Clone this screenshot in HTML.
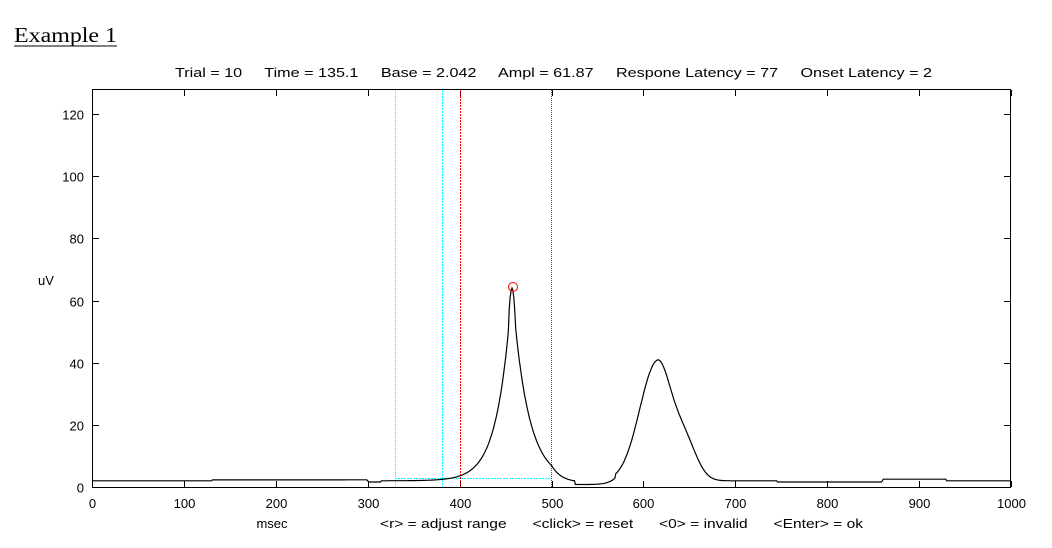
<!DOCTYPE html>
<html><head><meta charset="utf-8"><style>
body{margin:0;background:#fff;width:1052px;height:548px;overflow:hidden}
svg{display:block}
text{font-family:"Liberation Sans",Arial,sans-serif;font-size:13px;fill:#000}
</style></head><body>
<svg id="s" width="1052" height="548" xmlns="http://www.w3.org/2000/svg">
<text x="14" y="42" textLength="103" lengthAdjust="spacingAndGlyphs" style="font-family:'Liberation Serif',serif;font-size:21px">Example 1</text>
<line x1="14" y1="46" x2="117" y2="46" stroke="#000" stroke-width="1"/>
<text x="175" y="77" textLength="757" lengthAdjust="spacingAndGlyphs" xml:space="preserve">Trial = 10     Time = 135.1     Base = 2.042     Ampl = 61.87     Respone Latency = 77     Onset Latency = 2</text>
<rect x="92.5" y="89.5" width="918" height="398" fill="none" stroke="#000"/>
<g id="ticks" stroke="#000" shape-rendering="crispEdges"></g>
<g id="lab"></g>
<text x="46" y="285" text-anchor="middle">uV</text>
<text x="272" y="528" text-anchor="middle">msec</text>
<text x="380" y="528" textLength="483" lengthAdjust="spacingAndGlyphs" xml:space="preserve">&lt;r&gt; = adjust range      &lt;click&gt; = reset      &lt;0&gt; = invalid      &lt;Enter&gt; = ok</text>
<g shape-rendering="crispEdges">
<line x1="395.5" y1="90" x2="395.5" y2="487" stroke="#0ff" stroke-dasharray="1,1"/>
<line x1="442.5" y1="90" x2="442.5" y2="487" stroke="#0ff" stroke-dasharray="2,1"/>
<line x1="460.5" y1="90" x2="460.5" y2="487" stroke="#f00" stroke-dasharray="2,1"/>
<line x1="551.5" y1="90" x2="551.5" y2="487" stroke="#f00" stroke-dasharray="1,1"/>
<line x1="395" y1="478.5" x2="551" y2="478.5" stroke="#0ff" stroke-dasharray="2,1" stroke-width="1"/>
</g>
<path id="p" fill="none" stroke="#000" stroke-width="1.2"/>
<circle cx="513" cy="287" r="4.5" fill="none" stroke="#f00"/>
</svg>
<script>
var X=t=>92+0.919*t, Y=v=>487-3.108*v;
var tk=document.getElementById('ticks'),lb=document.getElementById('lab'),h='',l='';
for(var i=0;i<=10;i++){var x=Math.round(X(i*100))+.5;h+='<line x1="'+x+'" y1="487" x2="'+x+'" y2="481"/><line x1="'+x+'" y1="90" x2="'+x+'" y2="96"/>';
l+='<text x="'+x+'" y="508" text-anchor="middle">'+(i*100)+'</text>';}
for(var j=0;j<=6;j++){var y=Math.round(Y(j*20))+.5;h+='<line x1="93" y1="'+y+'" x2="99" y2="'+y+'"/><line x1="1010" y1="'+y+'" x2="1004" y2="'+y+'"/>';
l+='<text x="84" y="'+(y+5)+'" text-anchor="end">'+(j*20)+'</text>';}
tk.innerHTML=h;lb.innerHTML=l;
var d='';
for(var t=0;t<=1000;t+=1){
 var b=2.0;
 if(t>130&&t<300)b=2.3;
 if(t>300&&t<315)b=1.6;
 if(t>525&&t<570)b=0.8;
 if(t>745&&t<860)b=1.6;
 if(t>860&&t<930)b=2.5;
 var dd=t-457, v=b;
 var pk=62*Math.exp(-Math.abs(dd)/(dd<0?15.5:17));
 if(Math.abs(dd)<4)pk=62*(1-dd*dd/16*0.2);
 if(t>500)pk*=Math.max(0,1-(t-500)/25);
 v+=pk;
 var s=t<615?19:15;
 v+=38*Math.exp(-Math.pow((t-615)/s,2)/2)+12*Math.exp(-Math.pow((t-645)/13,2)/2);
 d+=(t?'L':'M')+X(t).toFixed(1)+' '+Y(v).toFixed(1);
}
document.getElementById('p').setAttribute('d',d);
</script>
</body></html>
